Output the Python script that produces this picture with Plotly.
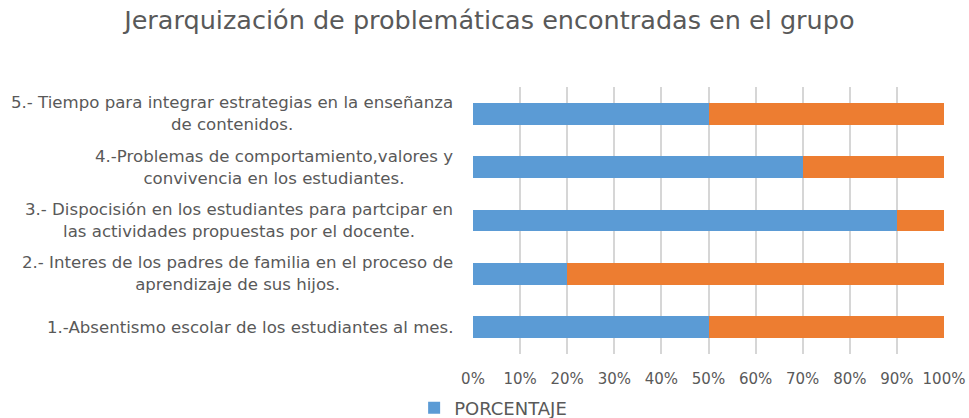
import plotly.graph_objects as go

categories = [
    "1.-Absentismo escolar de los estudiantes al mes.",
    "2.- Interes de los padres de familia en el proceso de<br>aprendizaje de sus hijos.",
    "3.- Dispocisión en los estudiantes para partcipar en<br>las actividades propuestas por el docente.",
    "4.-Problemas de comportamiento,valores y<br>convivencia en los estudiantes.",
    "5.- Tiempo para integrar estrategias en la enseñanza<br>de contenidos.",
]
porcentaje = [50, 20, 90, 70, 50]
resto = [50, 80, 10, 30, 50]
x_ticks = [0, 10, 20, 30, 40, 50, 60, 70, 80, 90, 100]
x_ticklabels = [f"{v}%" for v in x_ticks]

FONT = "DejaVu Sans"
GRAY = "#595959"

fig = go.Figure()
fig.add_trace(go.Bar(
    y=categories, x=porcentaje, orientation="h", name="PORCENTAJE",
    marker=dict(color="#5B9BD5", line=dict(width=0)), width=0.41,
))
fig.add_trace(go.Bar(
    y=categories, x=resto, orientation="h", name="", showlegend=False,
    marker=dict(color="#ED7D31", line=dict(width=0)), width=0.41,
))

for c in categories:
    fig.add_annotation(
        x=-0.038, xref="paper", y=c, yref="y", text=c, showarrow=False,
        xanchor="right", yanchor="middle", align="center",
        font=dict(family=FONT, size=16.6, color=GRAY),
    )

fig.update_layout(
    barmode="stack",
    width=969, height=418,
    margin=dict(l=473, r=25, t=87, b=64, autoexpand=False),
    paper_bgcolor="white", plot_bgcolor="white",
    title=dict(
        text="Jerarquización de problemáticas encontradas en el grupo",
        x=0.505, xanchor="center", y=0.952, yanchor="middle",
        font=dict(family=FONT, size=25.5, color=GRAY),
    ),
    legend=dict(
        orientation="h", x=-0.125, xanchor="left",
        yref="container", y=0.024, yanchor="middle",
        itemwidth=30,
        font=dict(family=FONT, size=18, color=GRAY),
    ),
)
fig.update_xaxes(
    range=[0, 100], tickvals=x_ticks, ticktext=x_ticklabels,
    showgrid=True, gridcolor="#D6D6D6", gridwidth=2,
    zeroline=False, showline=False, ticks="",
    ticklabelstandoff=14,
    tickfont=dict(family=FONT, size=15, color=GRAY),
)
fig.update_yaxes(
    showticklabels=False, showgrid=False, zeroline=False, showline=False, ticks="",
)

fig.write_html("out.html", config={"displayModeBar": False},
               post_script="document.body.style.margin='0';")
